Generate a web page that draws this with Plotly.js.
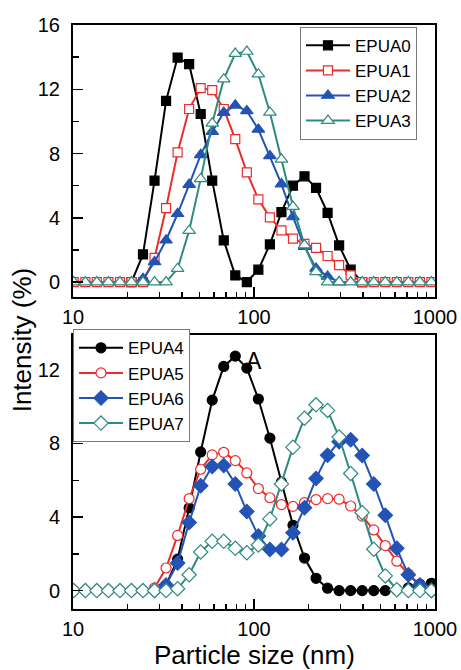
<!DOCTYPE html>
<html>
<head>
<meta charset="utf-8">
<script src="https://cdn.plot.ly/plotly-3.0.1.min.js"></script>
<style>html,body{margin:0;padding:0;background:#fff;}#chart{width:461px;height:670px;}</style>
</head>
<body>
<div id="chart"></div>
<script>
// Particle size classes (nm)
const sizeNm = [10.1, 11.7, 13.54, 15.69, 18.17, 21.04, 24.36, 28.21, 32.67, 37.84,
  43.82, 50.75, 58.77, 68.06, 78.82, 91.28, 105.7, 122.4, 141.8, 164.2,
  190.1, 220.2, 255.0, 295.3, 342.0, 396.1, 458.7, 531.2, 615.1, 712.4, 825.0, 955.4];

// Intensity (%) - top panel
const EPUA0 = [null, null, null, null, null, 0, 1.72, 6.31, 11.28, 13.97,
  13.56, 10.46, 6.31, 2.59, 0.41, 0, 0.77, 2.34, 4.35, 6.0,
  6.58, 5.86, 4.31, 2.28, 0.77, 0, null, null, null, null, null, null];
const EPUA1 = [0, 0, 0, 0, 0, 0, 0, 1.5, 4.6, 8.07,
  10.77, 12.07, 11.95, 10.77, 8.9, 6.83, 5.15, 4.03, 3.22, 2.7,
  2.38, 2.13, 1.62, 1.05, 0.42, 0, 0, 0, 0, 0, 0, 0];
const EPUA2 = [null, null, null, null, null, null, 0.2, 1.25, 2.6, 4.25,
  6.07, 7.92, 9.36, 10.55, 11.0, 10.65, 9.5, 7.85, 6.1, 4.05,
  2.2, 0.85, 0.35, 0, null, null, null, null, null, null, null, null];
const EPUA3 = [0, 0, 0, 0, 0, 0, 0, 0, 0, 0.83,
  3.2, 6.42, 9.88, 12.63, 14.22, 14.35, 12.94, 10.56, 7.64, 4.7,
  2.3, 0.63, 0, 0, 0, 0, 0, 0, 0, 0, 0, 0];

// Intensity (%) - bottom panel
const EPUA4 = [null, null, null, null, null, null, null, null, 0.3, 1.71,
  4.5, 7.54, 10.36, 12.19, 12.75, 12.1, 10.42, 8.29, 5.9, 3.55,
  1.77, 0.67, 0.13, 0, 0, 0, 0, 0, 0.05, 0.15, 0.35, 0.4];
const EPUA5 = [0, 0, 0, 0, 0, 0, 0, 0.15, 1.23, 3.0,
  5.0, 6.6, 7.38, 7.52, 7.07, 6.4, 5.55, 5.05, 4.68, 4.58,
  4.78, 4.95, 5.0, 4.97, 4.6, 4.05, 3.3, 2.45, 1.6, 0.9, 0.3, 0.05];
const EPUA6 = [null, null, null, null, null, null, null, 0, 0.3, 1.5,
  3.7, 5.7, 6.75, 6.8, 5.8, 4.3, 2.97, 2.23, 2.23, 3.14,
  4.5, 6.1, 7.36, 8.1, 8.2, 7.35, 5.8, 4.1, 2.3, 0.86, 0.3, 0];
const EPUA7 = [0, 0, 0, 0, 0, 0, 0, 0, 0, 0.1,
  0.86, 2.1, 2.68, 2.68, 2.3, 2.06, 2.48, 3.9, 5.8, 7.8,
  9.37, 10.1, 9.8, 8.35, 6.37, 4.24, 2.25, 0.8, 0.05, 0, 0, 0];

// Tick labels
const xMajorTicks = [10, 100, 1000];
const xMajorLabels = ['10', '100', '1000'];
const xMinorTicks = [20, 30, 40, 50, 60, 70, 80, 90, 200, 300, 400, 500, 600, 700, 800, 900];
const yTopMajor = [0, 4, 8, 12, 16];
const yTopMinor = [2, 6, 10, 14];
const yBotMajor = [0, 4, 8, 12];
const yBotMinor = [2, 6, 10];

const BLACK = '#000000', RED = '#ee2b2b', BLUE = '#2353b5', TEAL = '#2f8a80';

function tr(name, y, color, symbol, filled, size, xa, ya, legend) {
  return {
    type: 'scatter', mode: 'lines+markers', name: name,
    x: sizeNm, y: y, xaxis: xa, yaxis: ya, legend: legend,
    line: {color: color, width: 2},
    marker: {symbol: symbol, size: size, color: filled ? color : '#ffffff',
             line: {color: color, width: 1.2}},
    cliponaxis: true
  };
}

const data = [
  tr('EPUA0', EPUA0, BLACK, 'square', true, 9, 'x', 'y', 'legend'),
  tr('EPUA1', EPUA1, RED, 'square', false, 9, 'x', 'y', 'legend'),
  tr('EPUA2', EPUA2, BLUE, 'triangle-up', true, 11, 'x', 'y', 'legend'),
  tr('EPUA3', EPUA3, TEAL, 'triangle-up', false, 11, 'x', 'y', 'legend'),
  tr('EPUA4', EPUA4, BLACK, 'circle', true, 10, 'x2', 'y2', 'legend2'),
  tr('EPUA5', EPUA5, RED, 'circle', false, 10, 'x2', 'y2', 'legend2'),
  tr('EPUA6', EPUA6, BLUE, 'diamond', true, 11, 'x2', 'y2', 'legend2'),
  tr('EPUA7', EPUA7, TEAL, 'diamond', false, 11, 'x2', 'y2', 'legend2')
];

const tickFont = {size: 20, color: '#000'};
const xCommon = {
  type: 'log', range: [1, 3],
  tickmode: 'array', tickvals: xMajorTicks, ticktext: xMajorLabels,
  ticks: 'inside', ticklen: 10, tickwidth: 1.5, tickcolor: '#000',
  minor: {tickmode: 'array', tickvals: xMinorTicks, ticks: 'inside', ticklen: 5, tickwidth: 1.5, tickcolor: '#000'},
  showline: true, linecolor: '#000', linewidth: 2, mirror: true,
  showgrid: false, zeroline: false, tickfont: tickFont, ticklabelstandoff: 1
};
const yCommon = {
  tickmode: 'array',
  ticks: 'inside', ticklen: 10, tickwidth: 1.5, tickcolor: '#000',
  showline: true, linecolor: '#000', linewidth: 2, mirror: true,
  showgrid: false, zeroline: false, tickfont: tickFont, ticklabelstandoff: 7
};

const legendCommon = {
  xanchor: 'left', yanchor: 'top', bgcolor: '#ffffff',
  bordercolor: '#7a7a7a', borderwidth: 1, itemwidth: 44,
  font: {size: 17, color: '#000'}, tracegroupgap: 0
};

const layout = {
  width: 461, height: 670,
  margin: {l: 73, r: 26, t: 25, b: 61},
  paper_bgcolor: '#ffffff', plot_bgcolor: '#ffffff',
  font: {family: 'Liberation Sans, Arial, sans-serif', color: '#000'},
  showlegend: true,
  xaxis: Object.assign({}, xCommon, {anchor: 'y'}),
  yaxis: Object.assign({}, yCommon, {domain: [0.5351, 1], range: [-0.9, 16],
    tickvals: yTopMajor, minor: {tickmode: 'array', tickvals: yTopMinor, ticks: 'inside', ticklen: 6, tickwidth: 1.5, tickcolor: '#000'}}),
  xaxis2: Object.assign({}, xCommon, {anchor: 'y2'}),
  yaxis2: Object.assign({}, yCommon, {domain: [0, 0.4692], range: [-1.0, 13.9],
    tickvals: yBotMajor, minor: {tickmode: 'array', tickvals: yBotMinor, ticks: 'inside', ticklen: 6, tickwidth: 1.5, tickcolor: '#000'}}),
  legend: Object.assign({}, legendCommon, {x: 0.627, y: 0.997}),
  legend2: Object.assign({}, legendCommon, {x: 0.0, y: 0.479}),
  annotations: [
    {text: 'Intensity (%)', xref: 'paper', yref: 'paper', x: -0.14, y: 0.4606,
     textangle: -90, showarrow: false, font: {size: 26, color: '#000'}, xanchor: 'center', yanchor: 'middle'},
    {text: 'Particle size (nm)', xref: 'paper', yref: 'paper', x: 0.5, y: -0.079,
     showarrow: false, font: {size: 26, color: '#000'}, xanchor: 'center', yanchor: 'middle'},
    {text: 'A', xref: 'x2', yref: 'y2', x: 2.0, y: 12.5, showarrow: false,
     font: {size: 23, color: '#000'}, xanchor: 'center', yanchor: 'middle'}
  ]
};

Plotly.newPlot('chart', data, layout, {staticPlot: true, displayModeBar: false});
</script>
</body>
</html>
